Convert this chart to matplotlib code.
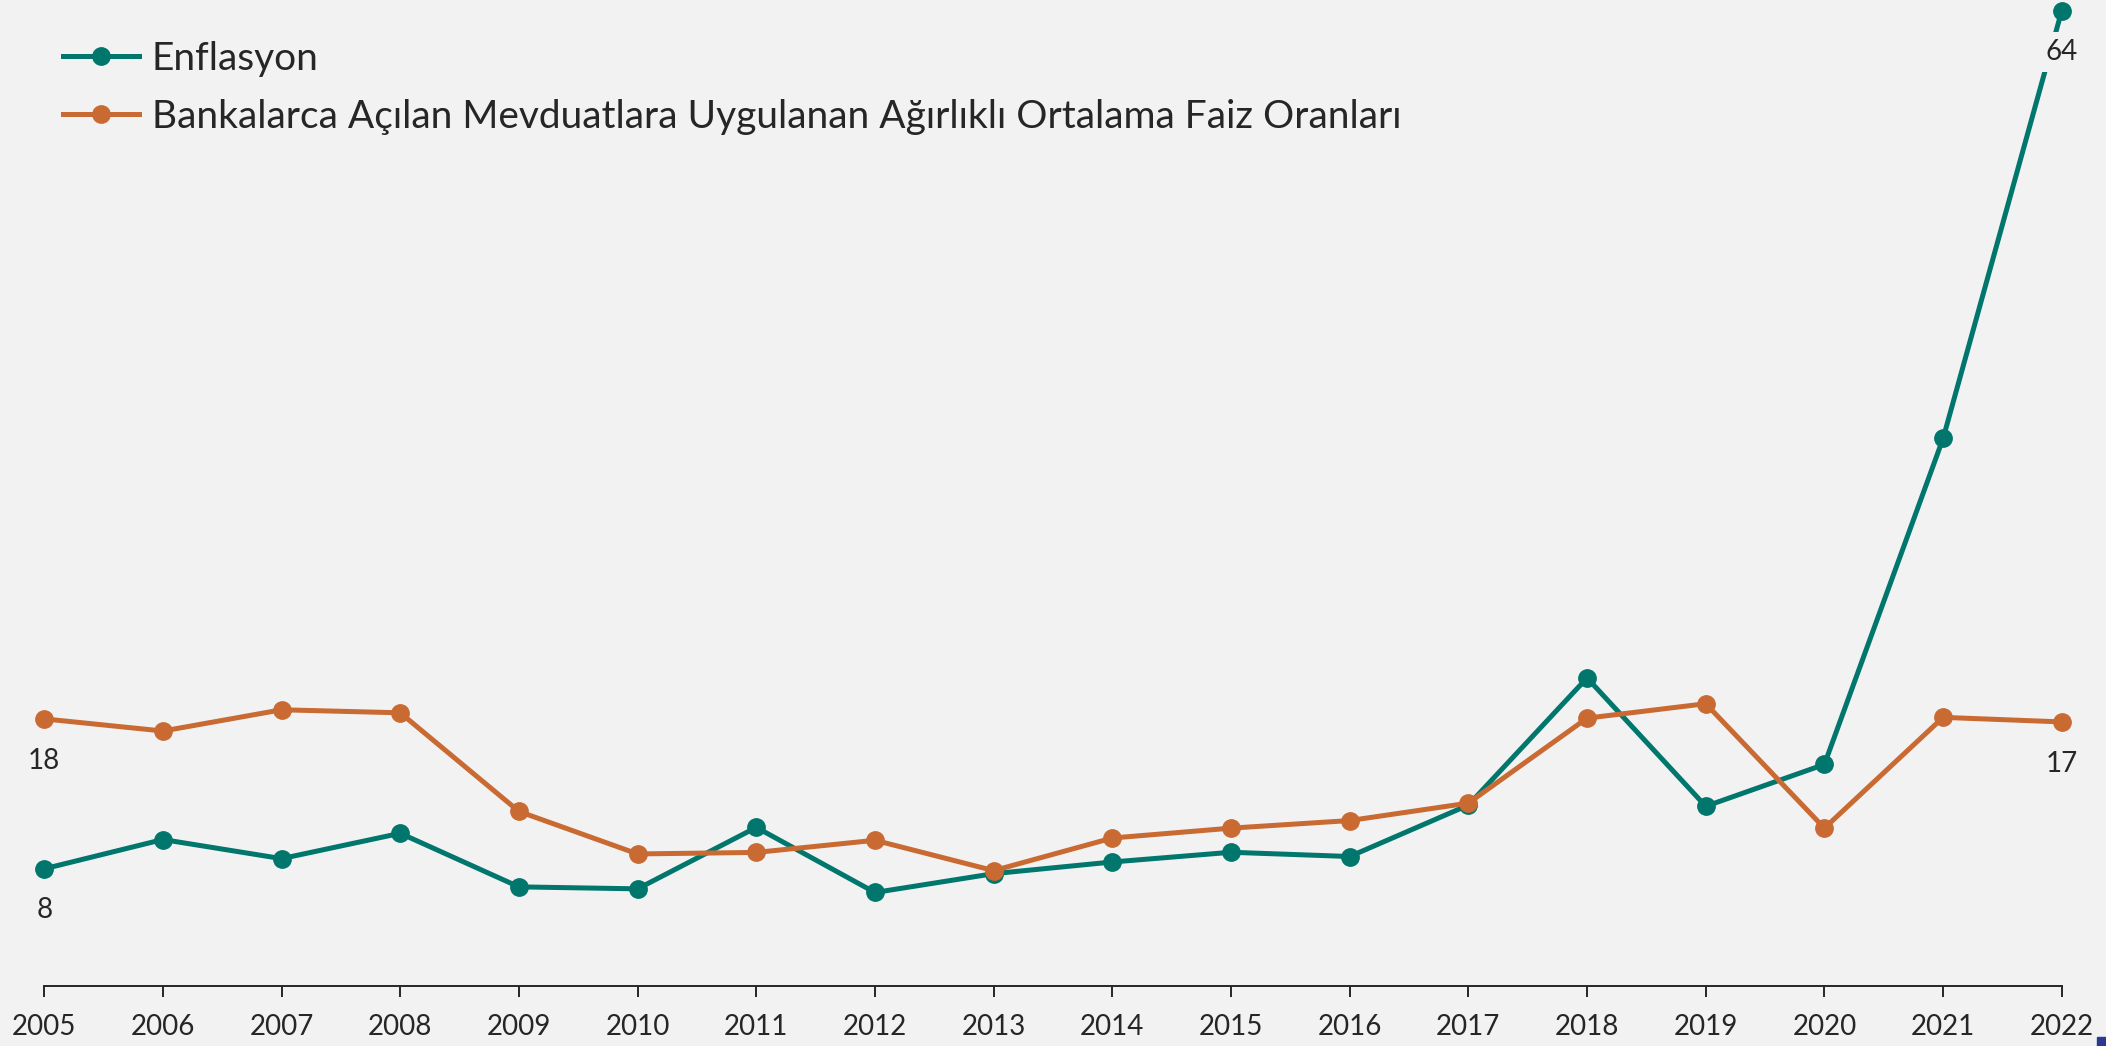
import matplotlib
matplotlib.use("Agg")
import matplotlib.pyplot as plt
from matplotlib.patches import Rectangle

plt.rcParams['font.family'] = ['Lato', 'DejaVu Sans']

years = [2005, 2006, 2007, 2008, 2009, 2010, 2011, 2012, 2013, 2014,
         2015, 2016, 2017, 2018, 2019, 2020, 2021, 2022]
enflasyon = [7.72, 9.65, 8.39, 10.06, 6.53, 6.40, 10.45, 6.16, 7.40, 8.17,
             8.81, 8.53, 11.92, 20.30, 11.84, 14.60, 36.08, 64.27]
faiz = [17.6, 16.8, 18.2, 18.0, 11.5, 8.7, 8.8, 9.6, 7.6, 9.75,
        10.4, 10.9, 12.05, 17.65, 18.6, 10.4, 17.7, 17.4]

series_names = ["Enflasyon",
                "Bankalarca Açılan Mevduatlara Uygulanan Ağırlıklı Ortalama Faiz Oranları"]
colors = ["#00766C", "#C96A33"]
bg = "#F2F2F2"
text_color = "#262626"

fig = plt.figure(figsize=(21.06, 10.46), dpi=100, facecolor=bg)
ax = fig.add_axes([0.021, 0.0574, 0.958, 0.9324], facecolor=bg)

for vals, name, c in zip([enflasyon, faiz], series_names, colors):
    ax.plot(years, vals, color=c, lw=3.6, marker='o', ms=12.5,
            label=name, clip_on=False, zorder=3)

# end labels
for vals in [enflasyon, faiz]:
    for idx in (0, len(years) - 1):
        ax.annotate(f"{round(vals[idx])}", (years[idx], vals[idx]),
                    xytext=(0, -30), textcoords='offset points',
                    ha='center', va='center', fontsize=20, color=text_color,
                    annotation_clip=False, zorder=4,
                    bbox=dict(boxstyle='square,pad=0.25', fc=bg, ec='none'))

ax.set_xlim(years[0], years[-1])
ax.set_ylim(0, 64.27)
ax.set_xticks(years)
ax.set_xticklabels([str(y) for y in years], fontsize=20, color=text_color)
ax.set_yticks([])
for s in ['top', 'right', 'left']:
    ax.spines[s].set_visible(False)
ax.spines['bottom'].set_linewidth(1.4)
ax.spines['bottom'].set_color(text_color)
ax.tick_params(axis='x', length=8, width=1.4, color=text_color, pad=12)

leg = ax.legend(loc='upper left', bbox_to_anchor=(0.030, 0.961),
                bbox_transform=fig.transFigure, frameon=False,
                fontsize=28, handlelength=1.95, handletextpad=0.33,
                labelspacing=0.56, borderaxespad=0, borderpad=0)
for t in leg.get_texts():
    t.set_color(text_color)

fig.patches.append(Rectangle((2097 / 2106, 0), 9 / 2106, 9 / 1046,
                             transform=fig.transFigure, color="#2B3990",
                             zorder=10))

fig.savefig("out.png", dpi=100, facecolor=bg)
